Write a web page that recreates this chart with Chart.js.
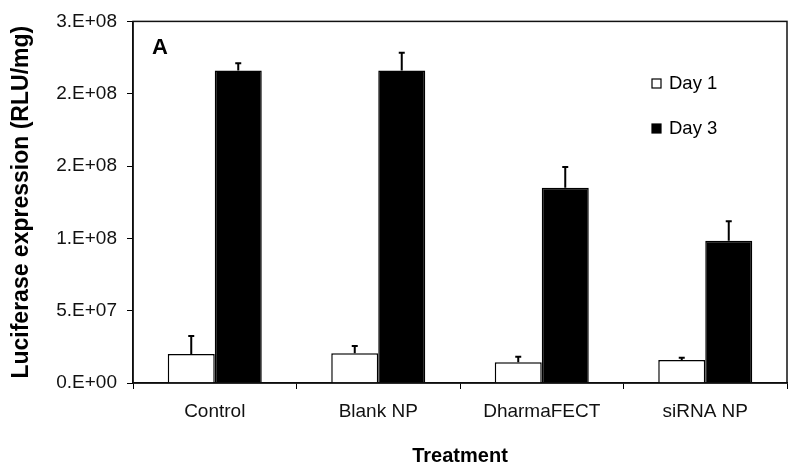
<!DOCTYPE html>
<html>
<head>
<meta charset="utf-8">
<script src="https://cdn.jsdelivr.net/npm/chart.js@4.4.1/dist/chart.umd.min.js"></script>
<style>
  html, body { margin: 0; padding: 0; background: #fff; }
  #wrap { width: 800px; height: 471px; }
</style>
</head>
<body>
<div id="wrap"><canvas id="luc"></canvas></div>
<script>
const treatments = ["Control", "Blank NP", "DharmaFECT", "siRNA NP"];
const day1 = [2.0e7, 2.05e7, 1.43e7, 1.59e7];
const day1Err = [1.25e7, 5.1e6, 3.9e6, 1.6e6];
const day3 = [2.16e8, 2.16e8, 1.35e8, 9.83e7];
const day3Err = [5.0e6, 1.24e7, 1.43e7, 1.36e7];
const yTickLabels = ["0.E+00", "5.E+07", "1.E+08", "2.E+08", "2.E+08", "3.E+08"];

const FONT = "'Liberation Sans', Arial, sans-serif";

// upward-only error bars with a small cap, Excel style
const errorBars = {
  id: "error-bars",
  afterDatasetsDraw(chart) {
    const { ctx } = chart;
    const y = chart.scales.y;
    ctx.save();
    ctx.strokeStyle = "#000";
    ctx.lineWidth = 2;
    chart.data.datasets.forEach((ds, i) => {
      const meta = chart.getDatasetMeta(i);
      meta.data.forEach((bar, j) => {
        const top = y.getPixelForValue(ds.data[j] + ds.errors[j]);
        ctx.beginPath();
        ctx.moveTo(bar.x, bar.y);
        ctx.lineTo(bar.x, top);
        ctx.moveTo(bar.x - 3, top);
        ctx.lineTo(bar.x + 3, top);
        ctx.stroke();
      });
    });
    ctx.restore();
  },
};

// frame round the plot, panel letter and the legend inside the plot
const frameAndLegend = {
  id: "frame-legend",
  afterDraw(chart) {
    const { ctx, chartArea: a } = chart;
    ctx.save();
    ctx.strokeStyle = "#111";
    ctx.lineWidth = 1.5;
    ctx.strokeRect(a.left, a.top, a.right - a.left, a.bottom - a.top);

    ctx.fillStyle = "#000";
    ctx.font = "bold 22px " + FONT;
    ctx.textBaseline = "middle";
    ctx.textAlign = "left";
    ctx.fillText("A", a.left + 19, a.top + 27);

    ctx.font = "18.5px " + FONT;
    chart.data.datasets.forEach((ds, i) => {
      const bx = 652, by = 79 + i * 45;
      ctx.fillStyle = ds.backgroundColor;
      ctx.fillRect(bx, by, 9, 9);
      ctx.strokeStyle = "#000";
      ctx.lineWidth = 1.2;
      ctx.strokeRect(bx, by, 9, 9);
      ctx.fillStyle = "#000";
      ctx.fillText(ds.label, bx + 17, by + 5);
    });
    ctx.restore();
  },
};

new Chart(document.getElementById("luc"), {
  type: "bar",
  data: {
    labels: treatments,
    datasets: [
      {
        label: "Day 1",
        data: day1,
        errors: day1Err,
        backgroundColor: "#ffffff",
        borderColor: "#000",
        borderWidth: 1.5,
      },
      {
        label: "Day 3",
        data: day3,
        errors: day3Err,
        backgroundColor: "#000000",
        borderColor: "#000",
        borderWidth: 1.5,
      },
    ],
  },
  options: {
    responsive: true,
    maintainAspectRatio: false,
    animation: false,
    datasets: { bar: { categoryPercentage: 0.575, barPercentage: 1.0 } },
    layout: { padding: { top: 21, right: 13, bottom: 0, left: 0 } },
    plugins: {
      legend: { display: false },
      tooltip: { enabled: false },
    },
    scales: {
      x: {
        grid: { drawOnChartArea: false, tickLength: 6, color: "#000", offset: true },
        border: { color: "#000", width: 1.5 },
        ticks: { color: "#111", padding: 11, font: { family: FONT, size: 19 }, maxRotation: 0 },
        title: {
          display: true,
          text: "Treatment",
          color: "#000",
          font: { family: FONT, size: 20, weight: "bold" },
          padding: { top: 0, bottom: 3 },
        },
        afterFit(scale) { scale.height = 88; },
      },
      y: {
        min: 0,
        max: 2.5e8,
        grid: { drawOnChartArea: false, tickLength: 6, color: "#000" },
        border: { color: "#000", width: 1.5 },
        ticks: {
          stepSize: 5e7,
          color: "#111",
          padding: 10,
          font: { family: FONT, size: 19 },
          callback: (v, i) => yTickLabels[i],
        },
        title: {
          display: true,
          text: "Luciferase expression (RLU/mg)",
          color: "#000",
          font: { family: FONT, size: 23, weight: "bold" },
          padding: { top: 8, bottom: 0 },
        },
        afterFit(scale) { scale.width = 133; },
      },
    },
  },
  plugins: [errorBars, frameAndLegend],
});
</script>
</body>
</html>
